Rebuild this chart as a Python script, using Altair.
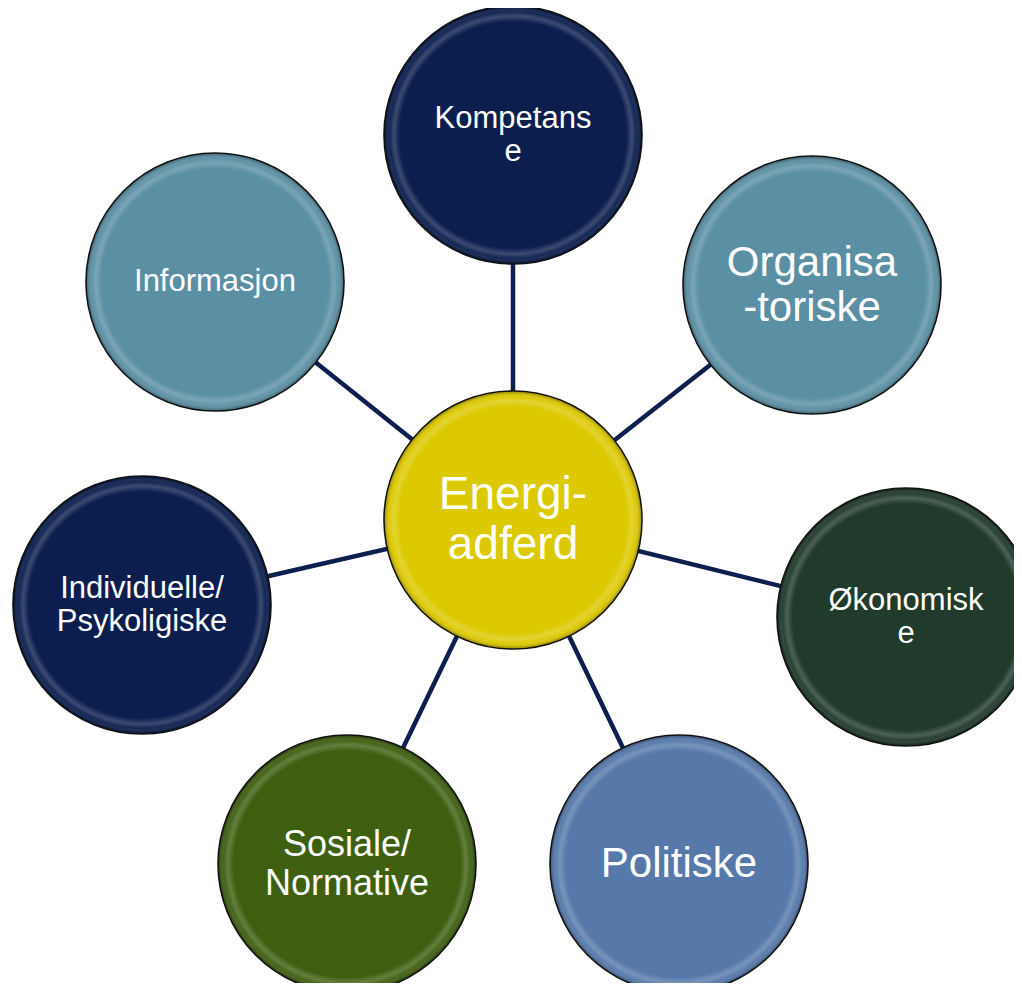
import altair as alt
import pandas as pd

# ---- data -------------------------------------------------------------
names = ["Energi-adferd", "Kompetanse", "Organisatoriske", "Økonomiske",
         "Politiske", "Sosiale/Normative", "Individuelle/Psykoligiske", "Informasjon"]
labels = ["Energi-\nadferd", "Kompetans\ne", "Organisa\n-toriske", "Økonomisk\ne",
          "Politiske", "Sosiale/\nNormative", "Individuelle/\nPsykoligiske", "Informasjon"]
node_x = [513, 513, 812, 906, 679, 347, 142, 215]
node_y = [520, 135, 285, 617, 864, 864, 605, 282]

# ---- styles -----------------------------------------------------------
palette = ["#dcc900", "#0b1e4e", "#5b8fa4", "#203a2b",
           "#5679aa", "#3f5f10", "#0b1e4e", "#5b8fa4"]
font_sizes = [46, 31, 42, 31, 42, 36, 31, 31]
EDGE_COLOR = "#0c1f4f"
DIAM = 258
W, H = 1006, 975

nodes = pd.DataFrame({"name": names, "label": labels, "x": node_x, "y": node_y})
edges = pd.DataFrame({
    "name": names[1:],
    "x": [node_x[0]] * (len(names) - 1),
    "y": [node_y[0]] * (len(names) - 1),
    "x2": node_x[1:],
    "y2": node_y[1:],
})

xs = alt.Scale(domain=[8, 8 + W], nice=False, zero=False)
ys = alt.Scale(domain=[8, 8 + H], nice=False, zero=False, reverse=True)
X = lambda f="x": alt.X(f"{f}:Q", scale=xs, axis=None)
Y = lambda f="y": alt.Y(f"{f}:Q", scale=ys, axis=None)

rules = alt.Chart(edges).mark_rule(color=EDGE_COLOR, strokeWidth=4.5).encode(
    x=X(), y=Y(), x2="x2:Q", y2="y2:Q"
)

circles = alt.Chart(nodes).mark_point(
    shape="circle", filled=True, size=DIAM * DIAM, opacity=1,
    stroke="#111111", strokeWidth=1.6, strokeOpacity=1
).encode(
    x=X(), y=Y(),
    fill=alt.Fill("name:N", scale=alt.Scale(domain=names, range=palette), legend=None),
)

gloss = alt.Chart(nodes).mark_point(
    shape="circle", filled=True, size=(DIAM - 2) * (DIAM - 2), opacity=1,
    fill=alt.Gradient(
        gradient="radial",
        x1=0.5, y1=0.5, r1=0.0, x2=0.5, y2=0.5, r2=0.5,
        stops=[
            alt.GradientStop(offset=0.0, color="rgba(255,255,255,0)"),
            alt.GradientStop(offset=0.885, color="rgba(255,255,255,0)"),
            alt.GradientStop(offset=0.93, color="rgba(255,255,255,0.2)"),
            alt.GradientStop(offset=0.965, color="rgba(255,255,255,0.04)"),
            alt.GradientStop(offset=1.0, color="rgba(0,0,0,0.28)"),
        ],
    ),
).encode(x=X(), y=Y())

texts = []
for n, lab, fs in zip(names, labels, font_sizes):
    lh = round(fs * 1.08)
    nlines = lab.count("\n") + 1
    texts.append(
        alt.Chart(nodes).transform_filter(alt.datum.name == n).mark_text(
            font="Liberation Sans", fontSize=fs, lineHeight=lh,
            lineBreak="\n", color="white", align="center", baseline="middle",
            dy=-(nlines - 1) * lh / 2
        ).encode(x=X(), y=Y(), text="label:N")
    )

chart = alt.layer(rules, circles, gloss, *texts).properties(
    width=W, height=H, padding=0,
    autosize=alt.AutoSizeParams(type="none"),
).configure_view(strokeWidth=0)

chart.save("out.html", embed_options={"renderer": "svg", "actions": False})
